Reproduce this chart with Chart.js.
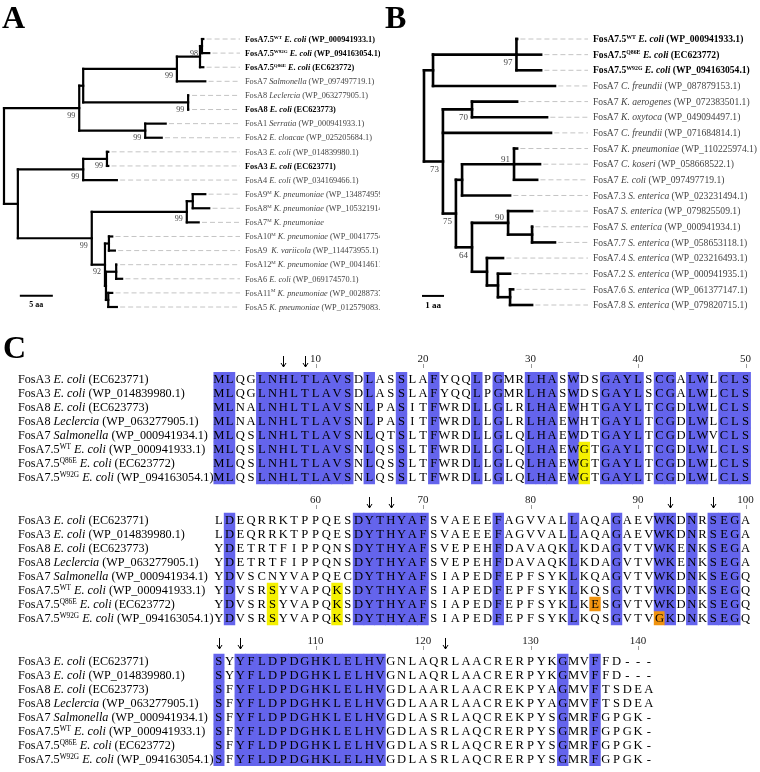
<!DOCTYPE html>
<html>
<head>
<meta charset="utf-8">
<script src="https://cdn.jsdelivr.net/npm/chart.js@4.4.1/dist/chart.umd.min.js"></script>
<style>
  body { margin: 0; background: #fff; width: 760px; height: 772px; overflow: hidden; position: relative; }
  canvas { position: absolute; }
</style>
</head>
<body>
<canvas id="treeA" width="380" height="320" style="left:0;top:0"></canvas>
<canvas id="treeB" width="380" height="320" style="left:380px;top:0"></canvas>
<canvas id="align" width="760" height="452" style="left:0;top:320px"></canvas>
<script>
// ── TREE A data (branch depths in aa) ──
const treeALeaves = [
  'FosA7.5^WT^ *E. coli* (WP_000941933.1)',
  'FosA7.5^W92G^ *E. coli* (WP_094163054.1)',
  'FosA7.5^Q86E^ *E. coli* (EC623772)',
  'FosA7 *Salmonella* (WP_097497719.1)',
  'FosA8 *Leclercia* (WP_063277905.1)',
  'FosA8 *E. coli* (EC623773)',
  'FosA1 *Serratia* (WP_000941933.1)',
  'FosA2 *E. cloacae* (WP_025205684.1)',
  'FosA3 *E. coli* (WP_014839980.1)',
  'FosA3 *E. coli* (EC623771)',
  'FosA4 *E. coli* (WP_034169466.1)',
  'FosA9^M^ *K. pneumoniae* (WP_134874959.1)',
  'FosA8^M^ *K. pneumoniae* (WP_105321914.1)',
  'FosA7^M^ *K. pneumoniae*',
  'FosA10^M^ *K. pneumoniae* (WP_004177548.1)',
  'FosA9  *K. variicola* (WP_114473955.1)',
  'FosA12^M^ *K. pneumoniae* (WP_004146118.1)',
  'FosA6 *E. coli* (WP_069174570.1)',
  'FosA11^M^ *K. pneumoniae* (WP_002887377.1)',
  'FosA5 *K. pneumoniae* (WP_012579083.1)'
];
const treeABold = [0, 1, 2, 5, 9];
const treeATips = [30.2, 31.1, 30.2, 30.5, 28.0, 28.0, 24.5, 23.9, 15.8, 15.8,
                   17.1, 30.5, 31.1, 29.5, 16.4, 16.8, 17.1, 17.9, 16.4, 17.1];
// [id, depth, children (numbers = leaves), bootstrap]
const treeANodes = [
  ['root', 0.0, ['nU', 'nL'], null],
  ['nU', 11.4, ['nU1', 'nSer'], 99],
  ['nU1', 12.0, ['n7', 'n8'], null],
  ['n7', 26.2, ['n75', 3], 99],
  ['n75', 29.7, ['n75a', 2], null],
  ['n75a', 30.0, [0, 1], 98],
  ['n8', 27.9, [4, 5], 99],
  ['nSer', 21.4, [6, 7], 99],
  ['nL', 2.1, ['n34', 'n9'], null],
  ['n34', 12.0, ['n3', 10], 99],
  ['n3', 15.6, [8, 9], 99],
  ['n9', 13.3, ['nM', 'nP'], 99],
  ['nM', 27.7, ['nM1', 13], 99],
  ['nM1', 28.6, [11, 12], null],
  ['nP', 15.3, ['nQ', 'nP2'], 92],
  ['nQ', 15.9, [14, 15], null],
  ['nP2', 15.45, ['nR', 'nS'], null],
  ['nR', 17.0, [16, 17], null],
  ['nS', 15.8, [18, 19], null]
];

// ── TREE B data ──
const treeBLeaves = [
  'FosA7.5^WT^ *E. coli* (WP_000941933.1)',
  'FosA7.5^Q86E^ *E. coli* (EC623772)',
  'FosA7.5^W92G^ *E. coli* (WP_094163054.1)',
  'FosA7 *C. freundii* (WP_087879153.1)',
  'FosA7 *K. aerogenes* (WP_072383501.1)',
  'FosA7 *K. oxytoca* (WP_049094497.1)',
  'FosA7 *C. freundii* (WP_071684814.1)',
  'FosA7 *K. pneumoniae* (WP_110225974.1)',
  'FosA7 *C. koseri* (WP_058668522.1)',
  'FosA7 *E. coli* (WP_097497719.1)',
  'FosA7.3 *S. enterica* (WP_023231494.1)',
  'FosA7 *S. enterica* (WP_079825509.1)',
  'FosA7 *S. enterica* (WP_000941934.1)',
  'FosA7.7 *S. enterica* (WP_058653118.1)',
  'FosA7.4 *S. enterica* (WP_023216493.1)',
  'FosA7.2 *S. enterica* (WP_000941935.1)',
  'FosA7.6 *S. enterica* (WP_061377147.1)',
  'FosA7.8 *S. enterica* (WP_079820715.1)'
];
const treeBBold = [0, 1, 2];
const treeBTips = [4.23, 5.32, 5.32, 5.95, 4.23, 5.59, 5.77, 4.23, 5.27,
                   5.14, 3.91, 4.91, 4.91, 5.95, 3.59, 3.91, 4.05, 4.91];
const treeBNodes = [
  ['root', 0.0, ['b1', 'b2'], null],
  ['b1', 0.41, ['b75', 3], null],
  ['b75', 4.2, [0, 1, 2], 97],
  ['b2', 0.86, ['bK', 6, 'b3'], 73],
  ['bK', 2.18, [4, 5], 70],
  ['b3', 1.45, ['b4', 'b5'], 75],
  ['b4', 1.73, ['bKP', 10], null],
  ['bKP', 4.09, [7, 8, 9], 91],
  ['b5', 2.18, ['b90', 'b6'], 64],
  ['b90', 3.82, [11, 'b90a'], 90],
  ['b90a', 4.91, [12, 13], null],
  ['b6', 2.86, [14, 'b7'], null],
  ['b7', 3.36, [15, 'b8'], null],
  ['b8', 3.91, [16, 17], null]
];

// ── ALIGNMENT data ──
const alignNames = [
  'FosA3 *E. coli* (EC623771)',
  'FosA3 *E. coli* (WP_014839980.1)',
  'FosA8 *E. coli* (EC623773)',
  'FosA8 *Leclercia* (WP_063277905.1)',
  'FosA7 *Salmonella* (WP_000941934.1)',
  'FosA7.5^WT^ *E. coli* (WP_000941933.1)',
  'FosA7.5^Q86E^ *E. coli* (EC623772)',
  'FosA7.5^W92G^ *E. coli* (WP_094163054.1)'
];
const alignSeqs = [
  'MLQGLNHLTLAVSDLASSLAFYQQLPGMRLHASWDSGAYLSCGALWLCLS' + 'LDEQRRKTPPQESDYTHYAFSVAEEEFAGVVALLAQAGAEVWKDNRSEGA' + 'SYYFLDPDGHKLELHVGNLAQRLAACRERPYKGMVFFD---',
  'MLQGLNHLTLAVSDLASSLAFYQQLPGMRLHASWDSGAYLSCGALWLCLS' + 'LDEQRRKTPPQESDYTHYAFSVAEEEFAGVVALLAQAGAEVWKDNRSEGA' + 'SYYFLDPDGHKLELHVGNLAQRLAACRERPYKGMVFFD---',
  'MLNALNHLTLAVSNLPASITFWRDLLGLRLHAEWHTGAYLTCGDLWLCLS' + 'YDETRTFIPPQNSDYTHYAFSVEPEHFDAVAQKLKDAGVTVWKENKSEGA' + 'SFYFLDPDGHKLELHVGDLAARLAACREKPYAGMVFTSDEA',
  'MLNALNHLTLAVSNLPASITFWRDLLGLRLHAEWHTGAYLTCGDLWLCLS' + 'YDETRTFIPPQNSDYTHYAFSVEPEHFDAVAQKLKDAGVTVWKENKSEGA' + 'SFYFLDPDGHKLELHVGDLAARLAACREKPYAGMVFTSDEA',
  'MLQSLNHLTLAVSNLQTSLTFWRDLLGLQLHAEWDTGAYLTCGDLWVCLS' + 'YDVSCNYVAPQECDYTHYAFSIAPEDFEPFSYKLKQAGVTVWKDNKSEGQ' + 'SFYFLDPDGHKLELHVGDLASRLAQCREKPYSGMRFGPGK-',
  'MLQSLNHLTLAVSNLQSSLTFWRDLLGLQLHAEWGTGAYLTCGDLWLCLS' + 'YDVSRSYVAPQKSDYTHYAFSIAPEDFEPFSYKLKQSGVTVWKDNKSEGQ' + 'SFYFLDPDGHKLELHVGDLASRLAQCRERPYSGMRFGPGK-',
  'MLQSLNHLTLAVSNLQSSLTFWRDLLGLQLHAEWGTGAYLTCGDLWLCLS' + 'YDVSRSYVAPQKSDYTHYAFSIAPEDFEPFSYKLKESGVTVWKDNKSEGQ' + 'SFYFLDPDGHKLELHVGDLASRLAQCRERPYSGMRFGPGK-',
  'MLQSLNHLTLAVSNLQSSLTFWRDLLGLQLHAEWGTGAYLTCGDLWLCLS' + 'YDVSRSYVAPQKSDYTHYAFSIAPEDFEPFSYKLKQSGVTVGKDNKSEGQ' + 'SFYFLDPDGHKLELHVGDLASRLAQCRERPYSGMRFGPGK-'
];
const bluePositions = [1, 2, 5, 6, 7, 8, 9, 10, 11, 12, 13, 15, 18, 21, 25, 27, 30, 31, 32, 34,
  37, 38, 39, 40, 42, 43, 45, 46, 48, 49, 50,
  52, 64, 65, 66, 67, 68, 69, 70, 77, 84, 88, 92, 93, 95, 97, 98, 99,
  101, 103, 104, 105, 106, 107, 108, 109, 110, 111, 112, 113, 114, 115, 116, 133, 136];
const yellowCells = [[5, 35], [6, 35], [7, 35], [5, 56], [6, 56], [7, 56], [5, 62], [6, 62], [7, 62]];
const orangeCells = [[6, 86], [7, 92]];
const arrowPositions = [7, 9, 65, 67, 93, 97, 101, 103, 122];

// ── styles ──
const SERIF = '"Liberation Serif", "Times New Roman", serif';
const BLUE = '#6464ec', YELLOW = '#f4f000', ORANGE = '#f0930f';
const COLS = 50;       // residues per block
const BP = 10.07;      // block pitch in row units

function richText(ctx, str, x, y, size, weight, color) {
  const parts = str.split(/(\*[^*]+\*|\^[^^]+\^)/).filter(s => s.length);
  ctx.save();
  ctx.fillStyle = color;
  ctx.textAlign = 'left';
  ctx.textBaseline = 'alphabetic';
  let cx = x;
  parts.forEach(p => {
    let t = p, font = `${weight} ${size}px ${SERIF}`, dy = 0;
    if (p[0] === '*') { t = p.slice(1, -1); font = `italic ${weight} ${size}px ${SERIF}`; }
    else if (p[0] === '^') { t = p.slice(1, -1); font = `${weight} ${(size * 0.6).toFixed(1)}px ${SERIF}`; dy = -size * 0.38; }
    ctx.font = font;
    ctx.fillText(t, cx, y + dy);
    cx += ctx.measureText(t).width;
  });
  ctx.restore();
}

// walk a tree, make elbow segments + bootstrap marks
function layoutTree(nodes, tips) {
  const byId = {};
  nodes.forEach(n => byId[n[0]] = n);
  const segs = [], marks = [];
  function walk(id) {
    const [, x, kids, support] = byId[id];
    const ys = kids.map(k => typeof k === 'number' ? k : walk(k));
    kids.forEach((k, i) => {
      const cx = typeof k === 'number' ? tips[k] : byId[k][1];
      segs.push([{ x, y: ys[i] }, { x: cx, y: ys[i] }]);
    });
    segs.push([{ x, y: ys[0] }, { x, y: ys[ys.length - 1] }]);
    const y = (ys[0] + ys[ys.length - 1]) / 2;
    if (support) marks.push({ id, x, y, text: String(support) });
    return y;
  }
  walk('root');
  return { segs, marks };
}

function makeTree(id, cfg) {
  const { segs, marks } = layoutTree(cfg.nodes, cfg.tips);
  const datasets = segs.map(s => ({
    data: s, showLine: true, borderColor: '#000', borderWidth: cfg.lineWidth,
    borderCapStyle: 'square', pointRadius: 0, clip: false
  }));
  cfg.tips.forEach((t, i) => datasets.push({
    data: [{ x: t + cfg.dashGap, y: i }, { x: cfg.xMax, y: i }], showLine: true,
    borderColor: '#c4c4c4', borderWidth: 1, borderDash: [5, 3], pointRadius: 0, clip: false
  }));
  datasets.push({
    data: [{ x: cfg.scaleBar[0], y: cfg.scaleBar[2] }, { x: cfg.scaleBar[0] + cfg.scaleBar[1], y: cfg.scaleBar[2] }],
    showLine: true, borderColor: '#000', borderWidth: 2, pointRadius: 0, clip: false
  });

  const treeText = {
    id: 'treeText' + cfg.letter,
    afterDatasetsDraw(chart) {
      const { ctx, chartArea, scales: { x, y } } = chart;
      ctx.save();
      ctx.fillStyle = '#000';
      ctx.font = `bold 32px ${SERIF}`;
      ctx.fillText(cfg.letter, cfg.letterX, 28);
      cfg.leaves.forEach((name, i) => {
        const bold = cfg.bold.includes(i);
        richText(ctx, name, chartArea.right + 5, y.getPixelForValue(i) + cfg.fontSize * 0.33,
          cfg.fontSize, bold ? 'bold' : 'normal', bold ? '#000' : '#444');
      });
      ctx.font = `${cfg.supSize}px ${SERIF}`;
      ctx.fillStyle = '#444';
      ctx.textAlign = 'right';
      marks.forEach(m => {
        const px = x.getPixelForValue(m.x), py = y.getPixelForValue(m.y);
        const above = (cfg.labelAbove || []).includes(m.id);
        ctx.fillText(m.text, px - 4, above ? py - 2.5 : py + cfg.supSize + 1.5);
      });
      ctx.textAlign = 'center';
      ctx.fillStyle = '#000';
      ctx.font = `bold ${cfg.supSize}px ${SERIF}`;
      ctx.fillText(cfg.scaleText, x.getPixelForValue(cfg.scaleBar[0] + cfg.scaleBar[1] / 2),
        y.getPixelForValue(cfg.scaleBar[2]) + cfg.supSize + 3);
      ctx.restore();
    }
  };

  return new Chart(document.getElementById(id), {
    type: 'scatter',
    data: { datasets },
    options: {
      responsive: false, animation: false,
      layout: { padding: cfg.padding },
      plugins: { legend: { display: false }, tooltip: { enabled: false } },
      scales: {
        x: { type: 'linear', display: false, min: 0, max: cfg.xMax },
        y: { type: 'linear', display: false, min: 0, max: cfg.leaves.length - 1, reverse: true }
      }
    },
    plugins: [treeText]
  });
}

// ── TREE A ──
makeTree('treeA', {
  letter: 'A', letterX: 2, leaves: treeALeaves, bold: treeABold, tips: treeATips, nodes: treeANodes,
  xMax: 35.76, dashGap: 0.5, lineWidth: 2.2, fontSize: 8.3, supSize: 8,
  padding: { left: 4, right: 140, top: 39, bottom: 13 },
  scaleBar: [2.4, 5, 18.2], scaleText: '5 aa'
});

// ── TREE B ──
makeTree('treeB', {
  letter: 'B', letterX: 5, leaves: treeBLeaves, bold: treeBBold, tips: treeBTips, nodes: treeBNodes,
  xMax: 7.45, dashGap: 0.15, lineWidth: 2.6, fontSize: 9.6, supSize: 9,
  padding: { left: 44, right: 172, top: 39, bottom: 15 },
  scaleBar: [-0.09, 1, 16.42], scaleText: '1 aa', labelAbove: ['bKP', 'b90']
});

// ── ALIGNMENT ──
const seqLen = alignSeqs[0].length;
const colLabels = Array.from({ length: COLS }, (_, k) => String(k + 1));

function cellColor(r, pos) {
  if (orangeCells.some(c => c[0] === r && c[1] === pos)) return ORANGE;
  if (yellowCells.some(c => c[0] === r && c[1] === pos)) return YELLOW;
  if (bluePositions.includes(pos)) return BLUE;
  return null;
}

const alignDatasets = [];
for (let b = 0; b < 3; b++) {
  alignNames.forEach((_, r) => {
    const data = [], colors = [];
    for (let k = 0; k < COLS; k++) {
      const pos = b * COLS + k + 1;
      const c = pos <= seqLen ? cellColor(r, pos) : null;
      data.push(c ? [b * BP + r, b * BP + r + 1] : null);
      colors.push(c || 'rgba(0,0,0,0)');
    }
    alignDatasets.push({
      data, backgroundColor: colors, borderWidth: 0, grouped: false,
      barPercentage: 1, categoryPercentage: 1
    });
  });
}

const alignText = {
  id: 'alignText',
  afterDatasetsDraw(chart) {
    const { ctx, scales: { x, y } } = chart;
    ctx.save();
    ctx.fillStyle = '#000';
    ctx.font = `bold 32px ${SERIF}`;
    ctx.fillText('C', 3, 38);
    for (let b = 0; b < 3; b++) {
      const top = y.getPixelForValue(b * BP);
      for (let k = 0; k < COLS; k++) {
        const pos = b * COLS + k + 1;
        if (pos > seqLen) break;
        const cx = x.getPixelForValue(k);
        if (pos % 10 === 0) {
          ctx.fillStyle = '#222';
          ctx.font = `11px ${SERIF}`;
          ctx.textAlign = 'center';
          ctx.fillText(String(pos), cx, top - 10);
          ctx.strokeStyle = '#999';
          ctx.lineWidth = 1;
          ctx.beginPath();
          ctx.moveTo(Math.round(cx) + 0.5, top - 8);
          ctx.lineTo(Math.round(cx) + 0.5, top - 4);
          ctx.stroke();
        }
        if (arrowPositions.includes(pos)) {
          const ax = Math.round(cx) + 0.5;
          ctx.strokeStyle = '#000';
          ctx.lineWidth = 1;
          ctx.beginPath();
          ctx.moveTo(ax, top - 16);
          ctx.lineTo(ax, top - 5);
          ctx.moveTo(ax - 2.5, top - 9);
          ctx.lineTo(ax, top - 5);
          ctx.lineTo(ax + 2.5, top - 9);
          ctx.stroke();
        }
      }
      alignNames.forEach((name, r) => {
        const base = y.getPixelForValue(b * BP + r + 0.5) + 4.3;
        richText(ctx, name, 18, base, 12.2, 'normal', '#000');
        ctx.fillStyle = '#000';
        ctx.font = `12.6px ${SERIF}`;
        ctx.textAlign = 'center';
        for (let k = 0; k < COLS; k++) {
          const pos = b * COLS + k + 1;
          if (pos > seqLen) break;
          ctx.fillText(alignSeqs[r][pos - 1], x.getPixelForValue(k), base);
        }
      });
    }
    ctx.restore();
  }
};

new Chart(document.getElementById('align'), {
  type: 'bar',
  data: { labels: colLabels, datasets: alignDatasets },
  options: {
    responsive: false, animation: false,
    layout: { padding: { left: 213.4, right: 9.1, top: 52, bottom: 6 } },
    plugins: { legend: { display: false }, tooltip: { enabled: false } },
    scales: {
      x: { display: false, offset: true },
      y: { type: 'linear', display: false, min: 0, max: 2 * BP + 8, reverse: true }
    }
  },
  plugins: [alignText]
});
</script>
</body>
</html>
